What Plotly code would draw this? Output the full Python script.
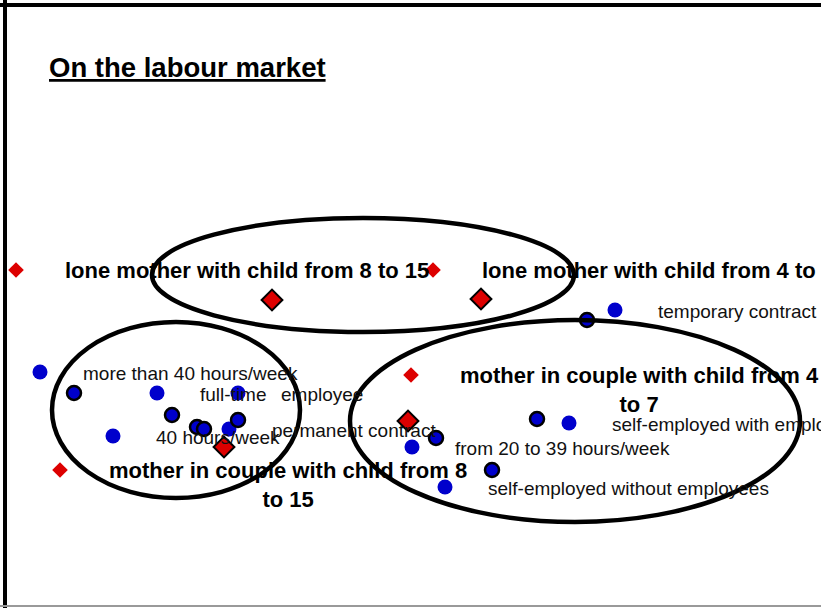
import plotly.graph_objects as go

# ---- data (factor-plane coordinates) ----
group_labels = ["lone mother with child from 8 to 15",
                "lone mother with child from 4 to 7",
                "mother in couple with child from 4<br>to 7",
                "mother in couple with child from 8<br>to 15"]
group_x = [-1.97, 0.115, 0.005, -1.75]
group_y = [0.60, 0.60, -0.45, -1.40]

group_centre_x = [-0.69, 0.355, -0.01, -0.93]
group_centre_y = [0.30, 0.31, -0.91, -1.17]

job_labels = ["more than 40 hours/week", "full-time", "employee", "40 hours/week",
              "permanent contract", "temporary contract", "self-employed with employees",
              "from 20 to 39 hours/week", "self-employed without employees"]
job_x = [-1.85, -1.265, -0.86, -1.485, -0.905, 1.025, 0.795, 0.01, 0.175]
job_y = [-0.42, -0.63, -0.63, -1.06, -0.99, 0.20, -0.93, -1.17, -1.57]

job_centre_x = [-1.68, -1.19, -1.065, -1.03, -0.86, 0.885, 0.635, 0.13, 0.41]
job_centre_y = [-0.63, -0.85, -0.97, -0.99, -0.90, 0.10, -0.89, -1.08, -1.40]

# ellipses: (centre x, centre y, half-width, half-height)
ellipses = [(-0.235, 0.55, 1.055, 0.57),
            (-1.17, -0.80, 0.62, 0.88),
            (0.825, -0.91, 1.125, 1.01)]

X_RANGE = [-2.05, 2.055]
Y_RANGE = [-2.78, 3.30]

BLUE = "#0000CC"
RED = "#DD0000"
FONT = "Liberation Sans, Arial, sans-serif"

fig = go.Figure()

fig.add_trace(go.Scatter(x=job_x, y=job_y, mode="markers",
                         marker=dict(symbol="circle", size=15, color=BLUE, line=dict(width=0)),
                         hoverinfo="skip"))
fig.add_trace(go.Scatter(x=job_centre_x, y=job_centre_y, mode="markers",
                         marker=dict(symbol="circle", size=14, color=BLUE,
                                     line=dict(width=2.5, color="black")),
                         hoverinfo="skip"))
fig.add_trace(go.Scatter(x=group_x, y=group_y, mode="markers",
                         marker=dict(symbol="diamond", size=12, color=RED, line=dict(width=0)),
                         hoverinfo="skip"))
fig.add_trace(go.Scatter(x=group_centre_x, y=group_centre_y, mode="markers",
                         marker=dict(symbol="diamond", size=16, color=RED,
                                     line=dict(width=2, color="black")),
                         hoverinfo="skip"))

shapes = []
for cx, cy, rx, ry in ellipses:
    shapes.append(dict(type="circle", xref="x", yref="y",
                       x0=cx - rx, x1=cx + rx, y0=cy - ry, y1=cy + ry,
                       line=dict(color="black", width=4.5), layer="above"))
# slide frame
shapes.append(dict(type="line", xref="paper", yref="paper", x0=0, x1=1,
                   y0=1 - 5 / 608, y1=1 - 5 / 608, line=dict(color="black", width=4)))
shapes.append(dict(type="line", xref="paper", yref="paper", x0=5 / 821, x1=5 / 821,
                   y0=0, y1=1, line=dict(color="black", width=4)))
shapes.append(dict(type="line", xref="paper", yref="paper", x0=0, x1=1,
                   y0=2 / 608, y1=2 / 608, line=dict(color="#999999", width=2)))

annotations = []
for t, x, y in zip(group_labels, group_x, group_y):
    two = "<br>" in t
    annotations.append(dict(x=x, y=y, xref="x", yref="y", text="<b>" + t.replace("<br>", "</b><br><b>") + "</b>",
                            showarrow=False, xanchor="left", xshift=47,
                            yanchor="top" if two else "middle", yshift=14 if two else 0,
                            align="center",
                            font=dict(family=FONT, size=22, color="black")))
for t, x, y in zip(job_labels, job_x, job_y):
    annotations.append(dict(x=x, y=y, xref="x", yref="y", text=t, showarrow=False,
                            xanchor="left", xshift=41, yanchor="middle", yshift=-1,
                            font=dict(family=FONT, size=19, color="#111111")))
annotations.append(dict(x=47 / 821, y=1 - 67 / 608, xref="paper", yref="paper",
                        text="<b><u>On the labour market</u></b>", showarrow=False,
                        xanchor="left", yanchor="middle",
                        font=dict(family=FONT, size=27.5, color="black")))

fig.update_layout(
    width=821, height=608,
    margin=dict(l=0, r=0, t=0, b=0),
    paper_bgcolor="white", plot_bgcolor="white",
    showlegend=False,
    xaxis=dict(range=X_RANGE, visible=False, fixedrange=True),
    yaxis=dict(range=Y_RANGE, visible=False, fixedrange=True),
    shapes=shapes, annotations=annotations,
)

fig.write_html("out.html", config={"displayModeBar": False},
               post_script="document.body.style.margin='0';document.body.style.overflow='hidden';")
